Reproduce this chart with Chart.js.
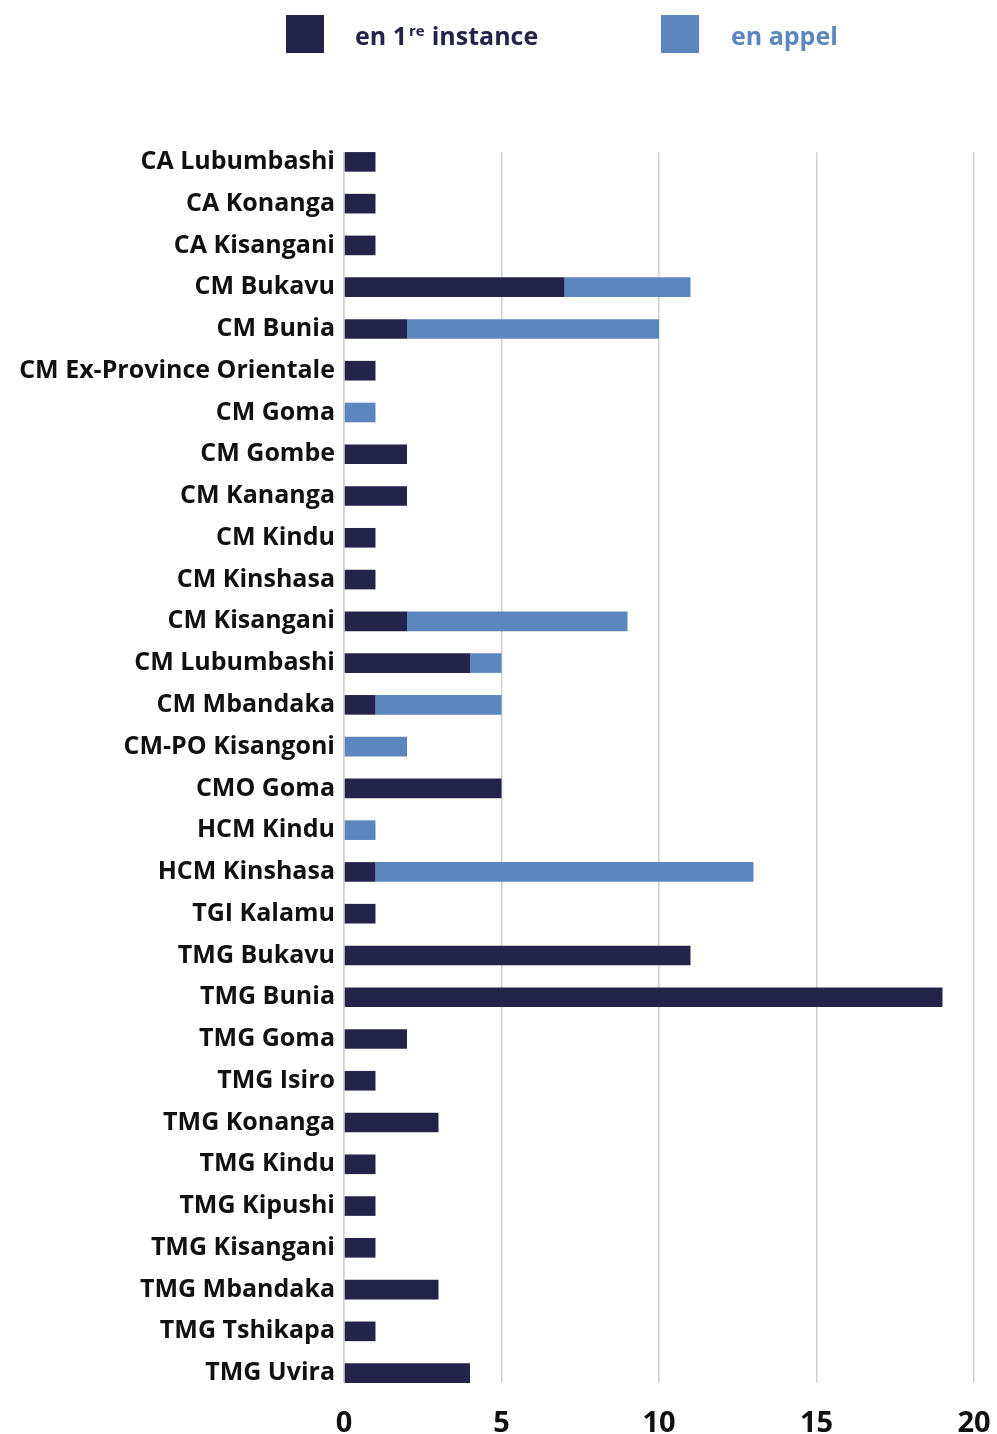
<!DOCTYPE html>
<html>
<head>
<meta charset="utf-8">
<script src="https://cdn.jsdelivr.net/npm/chart.js@4/dist/chart.umd.min.js"></script>
<style>
html,body{margin:0;padding:0;background:#fff;}
#wrap{position:relative;width:997px;height:1434px;}
#legend{position:absolute;top:0;left:0;width:997px;height:80px;font-family:"Open Sans",sans-serif;font-weight:700;font-size:25px;}
.box{position:absolute;top:15px;width:38px;height:38px;}
.lt{position:absolute;top:17px;line-height:36px;white-space:nowrap;}
.sup{font-size:15px;position:relative;top:-9px;margin-left:2px;margin-right:7px;}
#c{position:absolute;top:0;left:0;}
</style>
</head>
<body>
<div id="wrap">
<canvas id="c" width="997" height="1434"></canvas>
<div id="legend">
  <div class="box" style="left:286px;background:#24244a"></div>
  <div class="lt" style="left:355px;color:#24244a">en 1<span class="sup">re</span>instance</div>
  <div class="box" style="left:661px;background:#5b87be"></div>
  <div class="lt" style="left:731px;color:#5b87be">en appel</div>
</div>
</div>
<script>
const categories = ["CA Lubumbashi","CA Konanga","CA Kisangani","CM Bukavu","CM Bunia","CM Ex-Province Orientale","CM Goma","CM Gombe","CM Kananga","CM Kindu","CM Kinshasa","CM Kisangani","CM Lubumbashi","CM Mbandaka","CM-PO Kisangoni","CMO Goma","HCM Kindu","HCM Kinshasa","TGI Kalamu","TMG Bukavu","TMG Bunia","TMG Goma","TMG Isiro","TMG Konanga","TMG Kindu","TMG Kipushi","TMG Kisangani","TMG Mbandaka","TMG Tshikapa","TMG Uvira"];
const firstInstance = [1,1,1,7,2,1,0,2,2,1,1,2,4,1,0,5,0,1,1,11,19,2,1,3,1,1,1,3,1,4];
const appeal =        [0,0,0,4,8,0,1,0,0,0,0,7,1,4,2,0,1,12,0,0,0,0,0,0,0,0,0,0,0,0];
const xTicks = [0,5,10,15,20];
const seriesNames = ["en 1re instance","en appel"];
const BAR_PCT = 0.47;

// trims the gridlines so that they run from the top of the first bar to the bottom of the last
const gridTrim = {
  id: 'gridTrim',
  beforeDatasetsDraw(chart) {
    const {ctx, chartArea: a, scales: {y}} = chart;
    const step = (a.bottom - a.top) / categories.length;
    const m = step * (1 - BAR_PCT) / 2;
    ctx.save();
    ctx.fillStyle = '#fff';
    ctx.fillRect(a.left - 2, a.top - 2, a.right - a.left + 6, m + 2);
    ctx.fillRect(a.left - 2, a.bottom - m, a.right - a.left + 6, m + 2);
    ctx.restore();
  }
};

new Chart(document.getElementById('c'), {
  type: 'bar',
  data: {
    labels: categories,
    datasets: [
      {label: seriesNames[0], data: firstInstance, backgroundColor: '#24244a', barPercentage: BAR_PCT, categoryPercentage: 1},
      {label: seriesNames[1], data: appeal, backgroundColor: '#5b87be', barPercentage: BAR_PCT, categoryPercentage: 1}
    ]
  },
  plugins: [gridTrim],
  options: {
    indexAxis: 'y',
    responsive: false,
    animation: false,
    layout: {padding: {top: 141, right: 23, bottom: 0, left: 0}},
    plugins: {legend: {display: false}, tooltip: {enabled: false}},
    scales: {
      x: {
        stacked: true, min: 0, max: 20,
        afterBuildTicks: s => { s.ticks = xTicks.map(v => ({value: v})); },
        afterFit: s => { s.height = 40; s.paddingRight = 0; },
        grid: {color: '#d0d0d0', lineWidth: 1.5, drawTicks: false},
        border: {display: false},
        ticks: {color: '#111', padding: 12, font: {family: 'Open Sans', weight: 'bold', size: 29}}
      },
      y: {
        stacked: true,
        afterFit: s => { s.width = 344; },
        grid: {display: false, drawTicks: false},
        border: {display: true, color: '#d0d0d0', width: 1.5},
        ticks: {color: '#111', padding: 9, font: {family: 'Open Sans', weight: 'bold', size: 25}}
      }
    }
  }
});
</script>
</body>
</html>
